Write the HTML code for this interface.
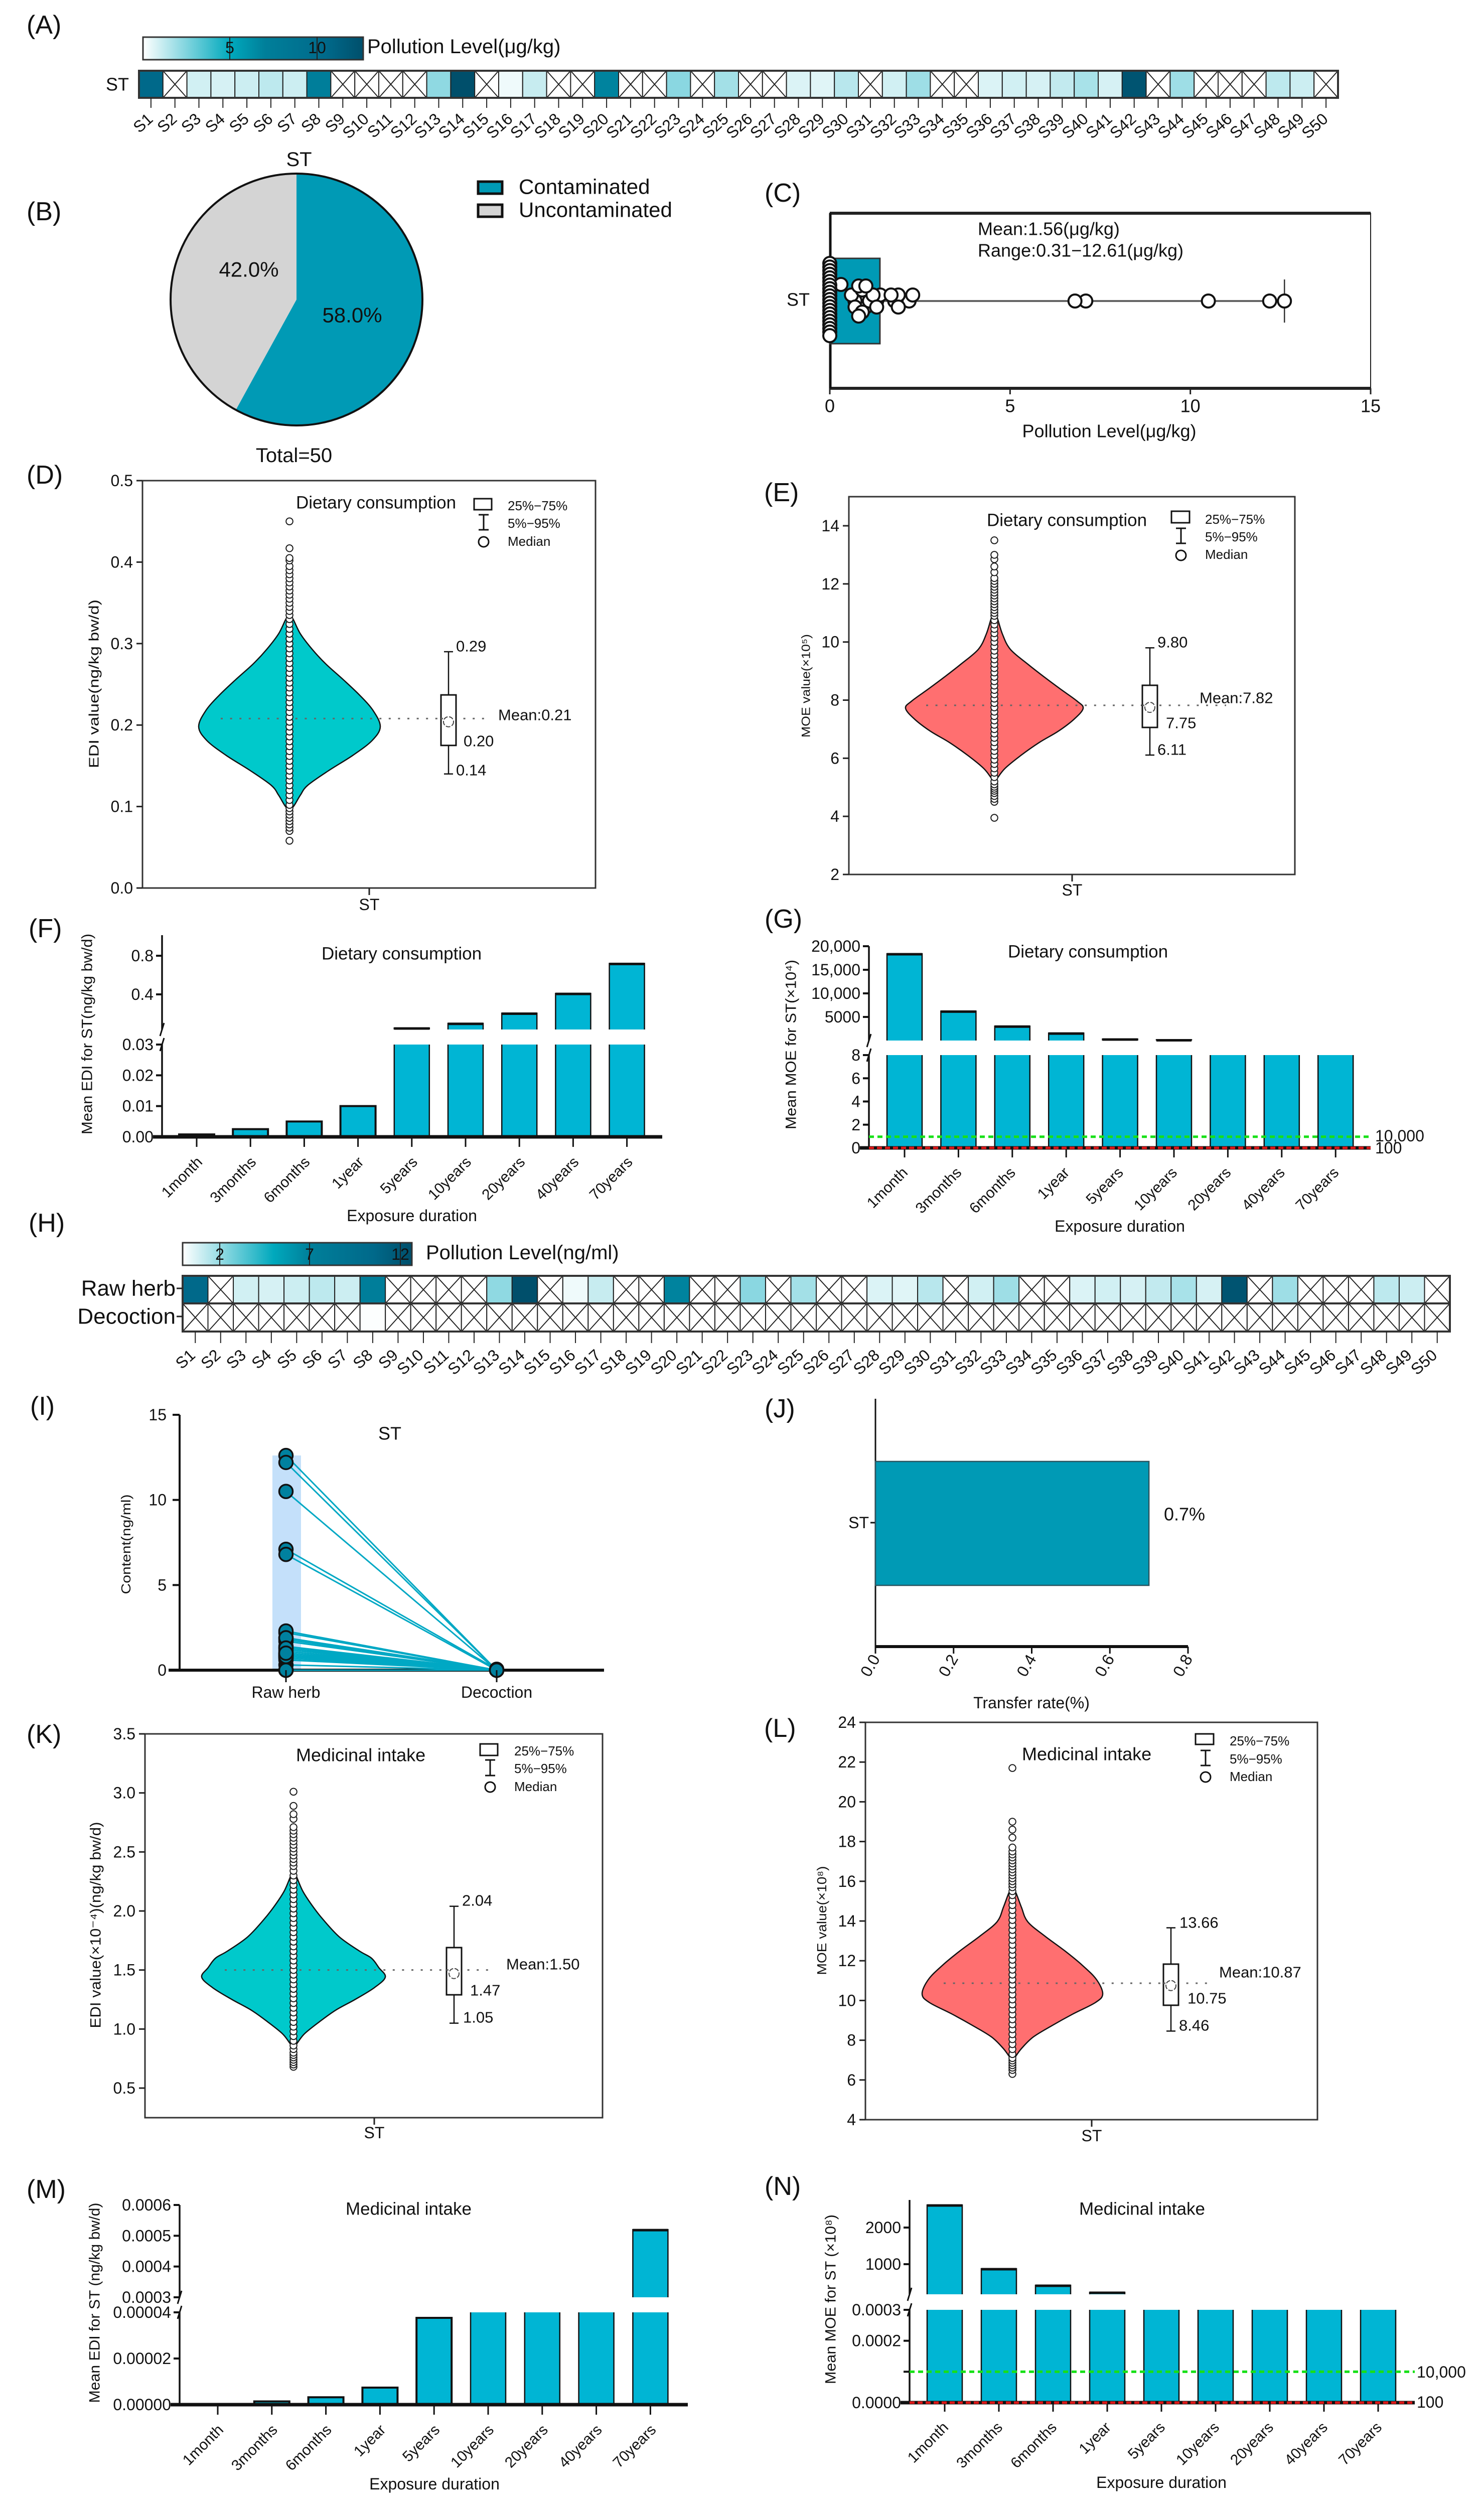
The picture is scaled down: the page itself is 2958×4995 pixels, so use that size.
<!DOCTYPE html>
<html lang="en">
<head>
<meta charset="utf-8">
<title>ST pollution, exposure and risk panels</title>
<style>
html,body{margin:0;padding:0;background:#fff}
svg{display:block}
text{font-family:"Liberation Sans",Arial,sans-serif;fill:#111;dominant-baseline:central}
.pl{font-size:52px}
.f44{font-size:44px}
.f42{font-size:42px}
.f40{font-size:40px}
.f36{font-size:36px}
.f35{font-size:35px}
.f32{font-size:32px}
.f31{font-size:31px}
.f26{font-size:26px}
.m{text-anchor:middle}
</style>
</head>
<body>
<svg id="figure" xmlns="http://www.w3.org/2000/svg" width="2958" height="4995" viewBox="0 0 2958 4995">
<defs><linearGradient id="pollution-gradient" x1="0" x2="1" y1="0" y2="0"></linearGradient></defs>
<rect x="0" y="0" width="2958" height="4995" fill="#fff"/>

<!-- panel letters -->
<text class="pl" x="53" y="50">(A)</text>
<text class="pl" x="53" y="422">(B)</text>
<text class="pl" x="1524" y="385">(C)</text>
<text class="pl" x="53" y="947">(D)</text>
<text class="pl" x="1523" y="982">(E)</text>
<text class="pl" x="57" y="1851">(F)</text>
<text class="pl" x="1524" y="1832">(G)</text>
<text class="pl" x="57" y="2438">(H)</text>
<text class="pl" x="60" y="2803">(I)</text>
<text class="pl" x="1524" y="2808">(J)</text>
<text class="pl" x="53" y="3457">(K)</text>
<text class="pl" x="1523" y="3445">(L)</text>
<text class="pl" x="53" y="4364">(M)</text>
<text class="pl" x="1524" y="4358">(N)</text>

<!-- A legend -->
<rect x="285" y="74" width="439" height="45" fill="url(#pollution-gradient)" stroke="#333" stroke-width="3"/>
<line x1="458" x2="458" y1="74" y2="119" stroke="#222" stroke-width="2"/>
<line x1="632" x2="632" y1="74" y2="119" stroke="#222" stroke-width="2"/>
<text class="f32 m" x="458" y="95">5</text>
<text class="f32 m" x="632" y="95">10</text>
<text class="f40" x="732" y="93">Pollution Level(μg/kg)</text>
<text class="f36" x="211" y="168">ST</text>

<!-- B text -->
<text class="f40 m" x="596" y="318">ST</text>
<text class="f42 m" x="496" y="537" id="pie-label-a">42.0%</text>
<text class="f42 m" x="702" y="628" id="pie-label-b">58.0%</text>
<text class="f40 m" x="586" y="908">Total=50</text>
<rect x="953" y="362" width="48" height="24" fill="#009ab5" stroke="#111" stroke-width="5"/>
<rect x="953" y="408" width="48" height="24" fill="#d4d4d4" stroke="#111" stroke-width="5"/>
<text class="f42" x="1034" y="372">Contaminated</text>
<text class="f42" x="1034" y="418">Uncontaminated</text>

<!-- C text -->
<text class="f36" x="1949" y="456">Mean:1.56(μg/kg)</text>
<text class="f36" x="1949" y="499">Range:0.31−12.61(μg/kg)</text>
<text class="f36" x="1568" y="597">ST</text>
<text class="f36 m" x="2211" y="859">Pollution Level(μg/kg)</text>

<!-- D text -->
<text class="f35" x="590" y="1002">Dietary consumption</text>
<rect x="945" y="994" width="35" height="22" fill="#fff" stroke="#111" stroke-width="3"/>
<path d="M954 1026H974M964 1026V1056M954 1056H974" fill="none" stroke="#111" stroke-width="3"/>
<circle cx="964" cy="1080" r="10" fill="#fff" stroke="#111" stroke-width="3"/>
<text class="f26" x="1012" y="1008">25%−75%</text>
<text class="f26" x="1012" y="1043">5%−95%</text>
<text class="f26" x="1012" y="1079">Median</text>
<text class="f31" x="909" y="1288">0.29</text>
<text class="f31" x="924" y="1477">0.20</text>
<text class="f31" x="909" y="1535">0.14</text>
<text class="f31" x="993" y="1425">Mean:0.21</text>
<text class="f32 m" x="736" y="1803">ST</text>
<text font-size="28" text-anchor="middle" x="187" y="1363" textLength="336" lengthAdjust="spacingAndGlyphs" transform="rotate(-90 187 1363)">EDI value(ng/kg bw/d)</text>

<!-- E text -->
<text class="f35" x="1967" y="1037">Dietary consumption</text>
<rect x="2335" y="1019" width="36" height="23" fill="#fff" stroke="#111" stroke-width="3"/>
<path d="M2344 1053H2364M2354 1053V1083M2344 1083H2364" fill="none" stroke="#111" stroke-width="3"/>
<circle cx="2354" cy="1107" r="10" fill="#fff" stroke="#111" stroke-width="3"/>
<text class="f26" x="2402" y="1035">25%−75%</text>
<text class="f26" x="2402" y="1070">5%−95%</text>
<text class="f26" x="2402" y="1105">Median</text>
<text class="f31" x="2307" y="1280">9.80</text>
<text class="f31" x="2324" y="1441">7.75</text>
<text class="f31" x="2307" y="1494">6.11</text>
<text class="f31" x="2391" y="1391">Mean:7.82</text>
<text class="f32 m" x="2137" y="1774">ST</text>
<text font-size="24" text-anchor="middle" x="1607" y="1367" textLength="206" lengthAdjust="spacingAndGlyphs" transform="rotate(-90 1607 1367)">MOE value(×10⁵)</text>

<!-- F, G text -->
<text class="f35" x="641" y="1901">Dietary consumption</text>
<text class="f32 m" x="821" y="2423">Exposure duration</text>
<text font-size="30" text-anchor="middle" x="174" y="2061" textLength="400" lengthAdjust="spacingAndGlyphs" transform="rotate(-90 174 2061)">Mean EDI for ST(ng/kg bw/d)</text>
<text class="f35" x="2009" y="1897">Dietary consumption</text>
<text class="f32 m" x="2232" y="2444">Exposure duration</text>
<text font-size="30" text-anchor="middle" x="1577" y="2082" textLength="338" lengthAdjust="spacingAndGlyphs" transform="rotate(-90 1577 2082)">Mean MOE for ST(×10⁴)</text>
<text class="f32" x="2741" y="2264">10,000</text>
<text class="f32" x="2741" y="2288">100</text>

<!-- H legend -->
<rect x="364" y="2477" width="457" height="45" fill="url(#pollution-gradient)" stroke="#333" stroke-width="3"/>
<line x1="438" x2="438" y1="2477" y2="2522" stroke="#222" stroke-width="2"/>
<line x1="617" x2="617" y1="2477" y2="2522" stroke="#222" stroke-width="2"/>
<line x1="798" x2="798" y1="2477" y2="2522" stroke="#222" stroke-width="2"/>
<text class="f32 m" x="438" y="2500">2</text>
<text class="f32 m" x="617" y="2500">7</text>
<text class="f32 m" x="798" y="2500">12</text>
<text class="f40" x="849" y="2497">Pollution Level(ng/ml)</text>
<text class="f44" text-anchor="end" x="350" y="2568">Raw herb</text>
<text class="f44" text-anchor="end" x="350" y="2624">Decoction</text>

<!-- I, J text -->
<text class="f36 m" x="777" y="2857">ST</text>
<text font-size="26" text-anchor="middle" x="251" y="3078" textLength="199" lengthAdjust="spacingAndGlyphs" transform="rotate(-90 251 3078)">Content(ng/ml)</text>
<text class="f32 m" x="570" y="3373">Raw herb</text>
<text class="f32 m" x="990" y="3373">Decoction</text>
<text class="f36" x="2320" y="3018">0.7%</text>
<text class="f32" text-anchor="end" x="1732" y="3035">ST</text>
<text class="f32 m" x="2056" y="3394">Transfer rate(%)</text>

<!-- K text -->
<text class="f36" x="590" y="3498">Medicinal intake</text>
<rect x="957" y="3476" width="35" height="23" fill="#fff" stroke="#111" stroke-width="3"/>
<path d="M967 3508H987M977 3508V3539M967 3539H987" fill="none" stroke="#111" stroke-width="3"/>
<circle cx="977" cy="3562" r="10" fill="#fff" stroke="#111" stroke-width="3"/>
<text class="f26" x="1025" y="3490">25%−75%</text>
<text class="f26" x="1025" y="3525">5%−95%</text>
<text class="f26" x="1025" y="3561">Median</text>
<text class="f31" x="921" y="3788">2.04</text>
<text class="f31" x="937" y="3967">1.47</text>
<text class="f31" x="923" y="4021">1.05</text>
<text class="f31" x="1009" y="3915">Mean:1.50</text>
<text class="f32 m" x="746" y="4251">ST</text>
<text font-size="30" text-anchor="middle" x="191" y="3837" textLength="411" lengthAdjust="spacingAndGlyphs" transform="rotate(-90 191 3837)">EDI value(×10⁻⁴)(ng/kg bw/d)</text>

<!-- L text -->
<text class="f36" x="2037" y="3496">Medicinal intake</text>
<rect x="2383" y="3456" width="36" height="21" fill="#fff" stroke="#111" stroke-width="3"/>
<path d="M2393 3489H2413M2403 3489V3519M2393 3519H2413" fill="none" stroke="#111" stroke-width="3"/>
<circle cx="2403" cy="3542" r="10" fill="#fff" stroke="#111" stroke-width="3"/>
<text class="f26" x="2451" y="3470">25%−75%</text>
<text class="f26" x="2451" y="3506">5%−95%</text>
<text class="f26" x="2451" y="3541">Median</text>
<text class="f31" x="2351" y="3832">13.66</text>
<text class="f31" x="2367" y="3983">10.75</text>
<text class="f31" x="2350" y="4037">8.46</text>
<text class="f31" x="2430" y="3931">Mean:10.87</text>
<text class="f32 m" x="2176" y="4257">ST</text>
<text font-size="26" text-anchor="middle" x="1638" y="3828" textLength="217" lengthAdjust="spacingAndGlyphs" transform="rotate(-90 1638 3828)">MOE value(×10⁸)</text>

<!-- M, N text -->
<text class="f35" x="689" y="4403">Medicinal intake</text>
<text class="f32 m" x="866" y="4951">Exposure duration</text>
<text font-size="30" text-anchor="middle" x="189" y="4590" textLength="399" lengthAdjust="spacingAndGlyphs" transform="rotate(-90 189 4590)">Mean EDI for ST (ng/kg bw/d)</text>
<text class="f35" x="2151" y="4403">Medicinal intake</text>
<text class="f32 m" x="2315" y="4948">Exposure duration</text>
<text font-size="30" text-anchor="middle" x="1656" y="4583" textLength="338" lengthAdjust="spacingAndGlyphs" transform="rotate(-90 1656 4583)">Mean MOE for ST (×10⁸)</text>
<text class="f32" x="2824" y="4728">10,000</text>
<text class="f32" x="2824" y="4788">100</text>
</svg>

<script>
/* ---------- data ---------- */
const sampleNames = ['S1','S2','S3','S4','S5','S6','S7','S8','S9','S10','S11','S12','S13','S14','S15','S16','S17','S18','S19','S20','S21','S22','S23','S24','S25','S26','S27','S28','S29','S30','S31','S32','S33','S34','S35','S36','S37','S38','S39','S40','S41','S42','S43','S44','S45','S46','S47','S48','S49','S50'];
const rawHerbLevels = [10.5,null,0.9,0.8,1.0,1.3,1.0,7.1,null,null,null,null,2.2,12.61,null,0.31,1.1,null,null,6.8,null,null,2.3,null,1.8,null,null,0.7,0.6,1.4,null,0.9,1.9,null,null,0.7,0.9,0.8,1.2,1.7,0.8,12.2,null,1.9,null,null,null,1.3,1.0,null];
const decoctionLevels = [null,null,null,null,null,null,null,0.05,null,null,null,null,null,null,null,null,null,null,null,null,null,null,null,null,null,null,null,null,null,null,null,null,null,null,null,null,null,null,null,null,null,null,null,null,null,null,null,null,null,null];
const colorStopValues = [0,5,7,10.5,12.61];
const colorStopHex = ['#ffffff','#00a9bd','#007f9a','#00698a','#004f6b'];

const pieValues = [58,42];
const pieColors = ['#009ab5','#d4d4d4'];

const boxCStats = [0,1.39,12.61];
const boxCTicks = [0,5,10,15];

const ediDietLevels = [0.335,0.33,0.312,0.293,0.275,0.256,0.237,0.218,0.198,0.181,0.163,0.144,0.126,0.114,0.101,0.095];
const ediDietDensity = [0,0.04,0.12,0.25,0.40,0.59,0.77,0.92,1,0.91,0.70,0.43,0.20,0.12,0.05,0];
const ediDietSamples = [0.058,0.07,0.074,0.078,0.082,0.086,0.09,0.094,0.098,0.102,0.108,0.114,0.12,0.126,0.132,0.138,0.144,0.15,0.156,0.162,0.168,0.174,0.18,0.186,0.192,0.198,0.204,0.21,0.216,0.222,0.228,0.234,0.24,0.246,0.252,0.258,0.264,0.27,0.276,0.282,0.288,0.294,0.3,0.306,0.312,0.318,0.324,0.33,0.335,0.34,0.345,0.35,0.355,0.36,0.365,0.37,0.375,0.38,0.385,0.39,0.395,0.402,0.405,0.417,0.45];
const ediDietBox = [0.14,0.175,0.204,0.237,0.29];
const ediDietMean = [0.208];
const ediDietTicks = [0,0.1,0.2,0.3,0.4,0.5];
const ediDietTickLabels = ['0.0','0.1','0.2','0.3','0.4','0.5'];

const moeDietLevels = [10.95,10.86,10.28,9.75,9.23,8.8,8.39,7.97,7.72,7.35,6.93,6.55,6.1,5.65,5.3,5.2];
const moeDietDensity = [0,0.03,0.09,0.18,0.38,0.56,0.74,0.93,1,0.90,0.72,0.51,0.30,0.12,0.03,0];
const moeDietSamples = [3.95,4.5,4.6,4.7,4.8,4.88,4.95,5.02,5.1,5.2,5.35,5.5,5.65,5.8,5.95,6.1,6.25,6.4,6.55,6.7,6.85,7.0,7.15,7.3,7.45,7.6,7.75,7.9,8.05,8.2,8.35,8.5,8.65,8.8,8.95,9.1,9.25,9.4,9.55,9.7,9.85,10.0,10.15,10.3,10.45,10.6,10.75,10.9,11.0,11.1,11.2,11.3,11.4,11.5,11.6,11.7,11.8,11.9,12.0,12.1,12.2,12.4,12.6,12.85,13.0,13.5];
const moeDietBox = [6.11,7.06,7.75,8.51,9.80];
const moeDietMean = [7.82];
const moeDietTicks = [2,4,6,8,10,12,14];
const moeDietTickLabels = ['2','4','6','8','10','12','14'];

const ediMedLevels = [2.33,2.296,2.17,2.05,1.93,1.78,1.66,1.6,1.52,1.44,1.35,1.25,1.16,1.06,0.96,0.88,0.84];
const ediMedDensity = [0,0.03,0.1,0.2,0.32,0.5,0.72,0.85,0.93,1,0.88,0.67,0.46,0.28,0.12,0.04,0];
const ediMedSamples = [0.68,0.7,0.72,0.74,0.76,0.78,0.8,0.83,0.86,0.9,0.94,0.98,1.02,1.06,1.1,1.14,1.18,1.22,1.26,1.3,1.34,1.38,1.42,1.46,1.5,1.54,1.58,1.62,1.66,1.7,1.74,1.78,1.82,1.86,1.9,1.94,1.98,2.02,2.06,2.1,2.14,2.18,2.22,2.26,2.3,2.34,2.38,2.41,2.44,2.47,2.5,2.53,2.56,2.59,2.62,2.65,2.68,2.71,2.78,2.82,2.89,3.01];
const ediMedBox = [1.05,1.29,1.47,1.69,2.04];
const ediMedMean = [1.5];
const ediMedTicks = [0.5,1.0,1.5,2.0,2.5,3.0,3.5];
const ediMedTickLabels = ['0.5','1.0','1.5','2.0','2.5','3.0','3.5'];

const moeMedLevels = [15.7,15.41,14.69,13.96,13.24,12.5,11.79,11.06,10.33,9.9,9.32,8.74,8.16,7.58,7.15,7.0];
const moeMedDensity = [0,0.04,0.1,0.17,0.36,0.58,0.77,0.93,1,0.92,0.67,0.44,0.23,0.1,0.03,0];
const moeMedSamples = [6.3,6.5,6.62,6.74,6.86,6.98,7.1,7.3,7.55,7.8,8.05,8.3,8.55,8.8,9.05,9.3,9.55,9.8,10.05,10.3,10.55,10.8,11.05,11.3,11.55,11.8,12.05,12.3,12.55,12.8,13.05,13.3,13.55,13.8,14.05,14.3,14.55,14.8,15.05,15.3,15.5,15.7,15.85,16.0,16.15,16.3,16.45,16.6,16.75,16.9,17.05,17.2,17.35,17.5,17.7,18.2,18.6,19.0,21.7];
const moeMedBox = [8.46,9.76,10.75,11.83,13.66];
const moeMedMean = [10.87];
const moeMedTicks = [4,6,8,10,12,14,16,18,20,22,24];
const moeMedTickLabels = ['4','6','8','10','12','14','16','18','20','22','24'];

const durations = ['1month','3months','6months','1year','5years','10years','20years','40years','70years'];
const ediDietMeans = [0.0008,0.0025,0.005,0.01,0.052,0.1,0.205,0.41,0.72];
const moeDietMeans = [18400,6240,3065,1586,320,160,80,40,23];
const ediMedMeans = [0.00000004,0.0000014,0.0000032,0.0000074,0.0000376,0.000074,0.00015,0.0003,0.00052];
const moeMedMeans = [2616,877,425,233,52,26,13,6.5,3.7];

const fUpperTicks = [0.4,0.8];
const fUpperLabels = ['0.4','0.8'];
const fLowerTicks = [0,0.01,0.02,0.03];
const fLowerLabels = ['0.00','0.01','0.02','0.03'];
const gUpperTicks = [5000,10000,15000,20000];
const gUpperLabels = ['5000','10,000','15,000','20,000'];
const gLowerTicks = [0,2,4,6,8];
const gLowerLabels = ['0','2','4','6','8'];
const mUpperTicks = [0.0003,0.0004,0.0005,0.0006];
const mUpperLabels = ['0.0003','0.0004','0.0005','0.0006'];
const mLowerTicks = [0,0.00002,0.00004];
const mLowerLabels = ['0.00000','0.00002','0.00004'];
const nUpperTicks = [1000,2000];
const nUpperLabels = ['1000','2000'];
const nLowerTicks = [0,0.0001,0.0002,0.0003];
const nLowerLabels = ['0.0000','','0.0002','0.0003'];

const pairedTicks = [0,5,10,15];
const transferRate = [0.7];
const transferTicks = [0,0.2,0.4,0.6,0.8];
const transferTickLabels = ['0.0','0.2','0.4','0.6','0.8'];

/* ---------- helpers ---------- */
const NS = 'http://www.w3.org/2000/svg';
const fig = document.getElementById('figure');
function make(tag, attrs, parent) {
  const node = document.createElementNS(NS, tag);
  for (const k in attrs) node.setAttribute(k, attrs[k]);
  (parent || fig).appendChild(node);
  return node;
}
function linear(d0, d1, r0, r1) {
  return function (v) { return r0 + (v - d0) * (r1 - r0) / (d1 - d0); };
}
function hexToRgb(h) {
  return [parseInt(h.slice(1,3),16), parseInt(h.slice(3,5),16), parseInt(h.slice(5,7),16)];
}
function colorFor(v) {
  for (let i = 1; i < colorStopValues.length; i++) {
    if (v <= colorStopValues[i]) {
      const t = (v - colorStopValues[i-1]) / (colorStopValues[i] - colorStopValues[i-1]);
      const a = hexToRgb(colorStopHex[i-1]);
      const b = hexToRgb(colorStopHex[i]);
      return 'rgb(' + a.map(function (c, j) { return Math.round(c + (b[j] - c) * t); }).join(',') + ')';
    }
  }
  return colorStopHex[colorStopHex.length - 1];
}
function smoothPath(pts, start) {
  let d = start ? 'M' + pts[0][0] + ' ' + pts[0][1] : '';
  for (let i = 0; i < pts.length - 1; i++) {
    const p0 = pts[i-1] || pts[i], p1 = pts[i], p2 = pts[i+1], p3 = pts[i+2] || p2;
    d += 'C' + (p1[0] + (p2[0]-p0[0])/6) + ' ' + (p1[1] + (p2[1]-p0[1])/6) + ' ' +
         (p2[0] - (p3[0]-p1[0])/6) + ' ' + (p2[1] - (p3[1]-p1[1])/6) + ' ' + p2[0] + ' ' + p2[1];
  }
  return d;
}

/* ---------- gradient ---------- */
const grad = document.getElementById('pollution-gradient');
colorStopValues.forEach(function (v, i) {
  make('stop', {offset: (v / 12.61), 'stop-color': colorStopHex[i]}, grad);
});

/* ---------- heatmaps ---------- */
function drawHeatRow(values, rowName, x0, y0, cw, h) {
  const g = make('g', {});
  
  
  values.forEach(function (v, i) {
    const x = x0 + i * cw;
    const cell = make('rect', {x: x, y: y0, width: cw, height: h, fill: v === null ? '#fff' : colorFor(v), stroke: '#222', 'stroke-width': 2}, g);
    
    
    if (v === null) {
      const cross = make('path', {d: 'M' + x + ' ' + y0 + 'L' + (x+cw) + ' ' + (y0+h) + 'M' + (x+cw) + ' ' + y0 + 'L' + x + ' ' + (y0+h), stroke: '#222', 'stroke-width': 2, fill: 'none'}, g);
      
      
    }
  });
  const frame = make('rect', {x: x0, y: y0, width: cw * values.length, height: h, fill: 'none', stroke: '#333', 'stroke-width': 4}, g);
  
  
}
function drawSampleAxis(prefix, x0, cw, yTop, yEnd, labelDx, labelY) {
  sampleNames.forEach(function (s, i) {
    const tx = x0 + (i + 0.5) * cw;
    const tick = make('line', {x1: tx, x2: tx, y1: yTop, y2: yEnd, stroke: '#222', 'stroke-width': 2});
    
    
    const t = make('text', {x: tx + labelDx, y: labelY, 'font-size': 32, 'text-anchor': 'end', style: 'dominant-baseline:auto', transform: 'rotate(-42 ' + (tx + labelDx) + ' ' + labelY + ')'});
    t.textContent = s;
    
    
  });
}
drawHeatRow(rawHerbLevels, 'a-st', 277, 141, 47.8, 54);
drawSampleAxis('heatmap-a', 277, 47.8, 195, 215, 6, 240);
drawHeatRow(rawHerbLevels, 'h-raw-herb', 364, 2543, 50.52, 55);
drawHeatRow(decoctionLevels, 'h-decoction', 364, 2598, 50.52, 56);
drawSampleAxis('heatmap-h', 364, 50.52, 2654, 2677, 2, 2704);
[2568, 2624].forEach(function (y, i) {
  const rowTick = make('line', {x1: 352, x2: 364, y1: y, y2: y, stroke: '#222', 'stroke-width': 3});
  
  
});

/* ---------- pie ---------- */
(function () {
  const cx = 591, cy = 597, r = 251;
  const total = pieValues.reduce(function (a, b) { return a + b; }, 0);
  let a0 = 0;
  pieValues.forEach(function (v, i) {
    const a1 = a0 + v / total * Math.PI * 2;
    const x0 = cx + r * Math.sin(a0), y0 = cy - r * Math.cos(a0);
    const x1 = cx + r * Math.sin(a1), y1 = cy - r * Math.cos(a1);
    const large = a1 - a0 > Math.PI ? 1 : 0;
    const slice = make('path', {d: 'M' + cx + ' ' + cy + 'L' + x0 + ' ' + y0 + 'A' + r + ' ' + r + ' 0 ' + large + ' 1 ' + x1 + ' ' + y1 + 'Z', fill: pieColors[i]});
    
    
    a0 = a1;
  });
  const rim = make('circle', {cx: cx, cy: cy, r: r, fill: 'none', stroke: '#111', 'stroke-width': 4});
  
  
  /* keep the percentage labels above the slices */
  fig.appendChild(document.getElementById('pie-label-a'));
  fig.appendChild(document.getElementById('pie-label-b'));
})();

/* ---------- box + swarm C ---------- */
(function () {
  const x = linear(0, 15, 1654, 2732);
  const midY = 600;
  const frame = make('rect', {x: 1654, y: 425, width: 1078, height: 349, fill: 'none', stroke: '#222', 'stroke-width': 2});
  
  
  const rules = make('path', {d: 'M1654 425H2732M1654 774H2732', stroke: '#222', 'stroke-width': 6, fill: 'none'});
  
  
  const leftAxis = make('line', {x1: 1655, x2: 1655, y1: 425, y2: 774, stroke: '#111', 'stroke-width': 5});
  
  
  boxCTicks.forEach(function (v) {
    const tick = make('line', {x1: x(v), x2: x(v), y1: 774, y2: 786, stroke: '#222', 'stroke-width': 3});
    
    
    const lab = make('text', {x: x(v), y: 809, 'font-size': 36, 'text-anchor': 'middle'});
    lab.textContent = String(v);
    
    
  });
  const box = make('rect', {x: x(boxCStats[0]), y: 515, width: x(boxCStats[1]) - x(boxCStats[0]), height: 170, fill: '#009ab5', stroke: '#333', 'stroke-width': 3});
  
  
  const whisker = make('line', {x1: x(boxCStats[1]), x2: x(boxCStats[2]), y1: midY, y2: midY, stroke: '#666', 'stroke-width': 4});
  
  
  const cap = make('line', {x1: x(boxCStats[2]), x2: x(boxCStats[2]), y1: 557, y2: 643, stroke: '#333', 'stroke-width': 2.5});
  
  
  const placed = [];
  let zeroIndex = 0;
  const zeroCount = rawHerbLevels.filter(function (v) { return v === null; }).length;
  rawHerbLevels.forEach(function (v, i) {
    const value = v === null ? 0 : v;
    const px = x(value);
    let py;
    if (v === null) {
      py = 525 + zeroIndex * (144 / (zeroCount - 1));
      zeroIndex++;
    } else if (px - 1654 < 30) {
      py = midY - 33;
    } else {
      const offsets = [0, -12, 12, -22, 22, -30, 30];
      py = midY;
      for (const o of offsets) {
        const clash = placed.some(function (p) { return Math.hypot(p[0] - px, p[1] - (midY + o)) < 10; });
        if (!clash) { py = midY + o; break; }
      }
      placed.push([px, py]);
    }
    const dot = make('circle', {cx: px, cy: py, r: 13, fill: '#fff', stroke: '#111', 'stroke-width': 4});
    
    
  });
})();

/* ---------- violins ---------- */
function drawViolin(cfg) {
  const prefix = cfg.prefix;
  const y = cfg.y;
  const g = make('g', {});
  
  
  const frame = make('rect', {x: cfg.left, y: cfg.top, width: cfg.right - cfg.left, height: cfg.bottom - cfg.top, fill: 'none', stroke: '#333', 'stroke-width': 3}, g);
  
  
  cfg.ticks.forEach(function (v, i) {
    const tick = make('line', {x1: cfg.left - 12, x2: cfg.left, y1: y(v), y2: y(v), stroke: '#222', 'stroke-width': 3}, g);
    
    
    const lab = make('text', {x: cfg.left - 19, y: y(v), 'font-size': 32, 'text-anchor': 'end'}, g);
    lab.textContent = cfg.tickLabels[i];
    
    
  });
  const xTick = make('line', {x1: cfg.catX, x2: cfg.catX, y1: cfg.bottom, y2: cfg.bottom + 14, stroke: '#222', 'stroke-width': 3}, g);
  
  
  const rightSide = cfg.levels.map(function (v, i) { return [cfg.cx + cfg.density[i] * cfg.hw, y(v)]; });
  const leftSide = cfg.levels.map(function (v, i) { return [cfg.cx - cfg.density[i] * cfg.hw, y(v)]; }).reverse();
  const shape = make('path', {d: smoothPath(rightSide, true) + smoothPath(leftSide, false) + 'Z', fill: cfg.fill, stroke: '#111', 'stroke-width': 2.5}, g);
  
  
  const mean = make('line', {x1: cfg.meanX0, x2: cfg.meanX1, y1: y(cfg.mean[0]), y2: y(cfg.mean[0]), stroke: '#666', 'stroke-width': 3, 'stroke-dasharray': '4 14.6'}, g);
  
  
  cfg.samples.forEach(function (v) {
    const dot = make('circle', {cx: cfg.cx, cy: y(v), r: 6.8, fill: '#fff', stroke: '#1a1a1a', 'stroke-width': 2}, g);
    
    
  });
  const b = cfg.box;
  const whisker = make('path', {d: 'M' + (cfg.boxX - 9) + ' ' + y(b[4]) + 'H' + (cfg.boxX + 9) + 'M' + cfg.boxX + ' ' + y(b[4]) + 'V' + y(b[0]) + 'M' + (cfg.boxX - 9) + ' ' + y(b[0]) + 'H' + (cfg.boxX + 9), fill: 'none', stroke: '#111', 'stroke-width': 2.5}, g);
  
  
  const box = make('rect', {x: cfg.boxX - 15, y: y(b[3]), width: 30, height: y(b[1]) - y(b[3]), fill: '#fff', stroke: '#111', 'stroke-width': 3}, g);
  
  
  const mean2 = make('line', {x1: cfg.boxX - 15, x2: cfg.boxX + 15, y1: y(cfg.mean[0]), y2: y(cfg.mean[0]), stroke: '#666', 'stroke-width': 3, 'stroke-dasharray': '4 14.6'}, g);
  
  
  const med = make('circle', {cx: cfg.boxX, cy: y(b[2]), r: 10, fill: '#fff', stroke: '#444', 'stroke-width': 2, 'stroke-dasharray': '9 3'}, g);
  
  
}
drawViolin({prefix: 'violin-d', left: 284, right: 1187, top: 958, bottom: 1770, y: linear(0, 0.5, 1770, 958), ticks: ediDietTicks, tickLabels: ediDietTickLabels, catX: 736, cx: 577, hw: 181, fill: '#00c9cb', levels: ediDietLevels, density: ediDietDensity, samples: ediDietSamples, box: ediDietBox, mean: ediDietMean, boxX: 894, meanX0: 440, meanX1: 971});
drawViolin({prefix: 'violin-e', left: 1692, right: 2581, top: 990, bottom: 1743, y: linear(2, 14, 1743, 1048), ticks: moeDietTicks, tickLabels: moeDietTickLabels, catX: 2137, cx: 1982, hw: 177, fill: '#ff6f70', levels: moeDietLevels, density: moeDietDensity, samples: moeDietSamples, box: moeDietBox, mean: moeDietMean, boxX: 2292, meanX0: 1846, meanX1: 2444});
drawViolin({prefix: 'violin-k', left: 289, right: 1201, top: 3456, bottom: 4221, y: linear(0.5, 3.5, 4162, 3456), ticks: ediMedTicks, tickLabels: ediMedTickLabels, catX: 746, cx: 585, hw: 183, fill: '#00c9cb', levels: ediMedLevels, density: ediMedDensity, samples: ediMedSamples, box: ediMedBox, mean: ediMedMean, boxX: 905, meanX0: 448, meanX1: 985});
drawViolin({prefix: 'violin-l', left: 1725, right: 2626, top: 3433, bottom: 4225, y: linear(4, 24, 4225, 3433), ticks: moeMedTicks, tickLabels: moeMedTickLabels, catX: 2176, cx: 2018, hw: 180, fill: '#ff6f70', levels: moeMedLevels, density: moeMedDensity, samples: moeMedSamples, box: moeMedBox, mean: moeMedMean, boxX: 2334, meanX0: 1881, meanX1: 2407});

/* ---------- broken-axis bars ---------- */
function drawBrokenBars(cfg) {
  const prefix = cfg.prefix;
  const g = make('g', {});
  
  
  const up = cfg.upper, low = cfg.lower;
  const barX = linear(0, 1, cfg.x0, cfg.x0 + cfg.step);
  cfg.values.forEach(function (v, i) {
    const cx = barX(i), w = 70;
    const baseY = low(0);
    const lowTop = low(Math.min(v, cfg.lowerMax));
    const lowBar = make('rect', {x: cx - w/2, y: lowTop, width: w, height: baseY - lowTop, fill: '#00b5d4'}, g);
    
    
    const side = v > cfg.lowerMax
      ? 'M' + (cx - w/2) + ' ' + lowTop + 'V' + baseY + 'M' + (cx + w/2) + ' ' + lowTop + 'V' + baseY
      : 'M' + (cx - w/2) + ' ' + baseY + 'V' + lowTop + 'H' + (cx + w/2) + 'V' + baseY;
    const lowEdge = make('path', {d: side, fill: 'none', stroke: '#111', 'stroke-width': v > cfg.lowerMax ? 2.5 : 4}, g);
    
    
    if (v > cfg.upperMin) {
      const upTop = up(v);
      const upBar = make('rect', {x: cx - w/2, y: upTop, width: w, height: cfg.upperBaseY - upTop, fill: '#00b5d4'}, g);
      
      
      const upEdge = make('path', {d: 'M' + (cx - w/2) + ' ' + cfg.upperBaseY + 'V' + upTop + 'H' + (cx + w/2) + 'V' + cfg.upperBaseY, fill: 'none', stroke: '#111', 'stroke-width': 2.5}, g);
      
      
      const cap = make('line', {x1: cx - w/2, x2: cx + w/2, y1: upTop + 1, y2: upTop + 1, stroke: '#111', 'stroke-width': 5}, g);
      
      
    }
    const tick = make('line', {x1: cx, x2: cx, y1: baseY, y2: baseY + cfg.tickLen, stroke: '#111', 'stroke-width': 3}, g);
    
    
    const lx = cx + cfg.labelDx, ly = cfg.labelY;
    const lab = make('text', {x: lx, y: ly, 'font-size': 30, 'text-anchor': 'end', style: 'dominant-baseline:auto', transform: 'rotate(-45 ' + lx + ' ' + ly + ')'}, g);
    lab.textContent = durations[i];
    
    
  });
  const axisUpper = make('line', {x1: cfg.axisX, x2: cfg.axisX, y1: cfg.axisTop, y2: cfg.upperBaseY, stroke: '#111', 'stroke-width': 3.5}, g);
  
  
  const axisLower = make('line', {x1: cfg.axisX, x2: cfg.axisX, y1: low(cfg.lowerMax), y2: low(0), stroke: '#111', 'stroke-width': 3.5}, g);
  
  
  [cfg.upperBaseY, low(cfg.lowerMax)].forEach(function (yy) {
    const slash = make('line', {x1: cfg.axisX - 4, x2: cfg.axisX + 4, y1: yy + 13, y2: yy - 13, stroke: '#111', 'stroke-width': 3}, g);
    
    
  });
  function ticks(values, labels, sc) {
    values.forEach(function (v, i) {
      const tick = make('line', {x1: cfg.axisX - 12, x2: cfg.axisX, y1: sc(v), y2: sc(v), stroke: '#111', 'stroke-width': 4}, g);
      
      
      const lab = make('text', {x: cfg.axisX - 17, y: sc(v), 'font-size': 32, 'text-anchor': 'end'}, g);
      lab.textContent = labels[i];
      
      
    });
  }
  ticks(cfg.upperTicks, cfg.upperLabels, up);
  ticks(cfg.lowerTicks, cfg.lowerLabels, low);
  const baseline = make('line', {x1: cfg.axisX - 18, x2: cfg.baseEnd, y1: low(0), y2: low(0), stroke: '#111', 'stroke-width': 7}, g);
  
  
  if (cfg.greenAt !== undefined) {
    const green = make('line', {x1: cfg.axisX, x2: cfg.baseEnd, y1: low(cfg.greenAt), y2: low(cfg.greenAt), stroke: '#18e018', 'stroke-width': 5, 'stroke-dasharray': '10 7'}, g);
    
    
    const red = make('line', {x1: cfg.axisX, x2: cfg.baseEnd, y1: low(cfg.redAt), y2: low(cfg.redAt), stroke: '#e01818', 'stroke-width': 5, 'stroke-dasharray': '10 6'}, g);
    
    
  }
}
drawBrokenBars({prefix: 'bars-f', values: ediDietMeans, x0: 392, step: 107.2, axisX: 323, axisTop: 1864, baseEnd: 1320,
  upper: linear(0.4, 0.8, 1982, 1905), upperBaseY: 2052, upperMin: 0.036,
  lower: linear(0, 0.03, 2266, 2082), lowerMax: 0.03,
  upperTicks: fUpperTicks, upperLabels: fUpperLabels, lowerTicks: fLowerTicks, lowerLabels: fLowerLabels,
  tickLen: 20, labelDx: 13, labelY: 2318});
drawBrokenBars({prefix: 'bars-g', values: moeDietMeans, x0: 1803, step: 107.4, axisX: 1732, axisTop: 1886, baseEnd: 2732,
  upper: linear(0, 20000, 2074, 1886), upperBaseY: 2074, upperMin: 100,
  lower: linear(0, 8, 2288, 2103), lowerMax: 8, greenAt: 0.96, redAt: 0,
  upperTicks: gUpperTicks, upperLabels: gUpperLabels, lowerTicks: gLowerTicks, lowerLabels: gLowerLabels,
  tickLen: 19, labelDx: 8, labelY: 2339});
drawBrokenBars({prefix: 'bars-m', values: ediMedMeans, x0: 434, step: 107.8, axisX: 358, axisTop: 4395, baseEnd: 1371,
  upper: linear(0.0003, 0.0006, 4579, 4395), upperBaseY: 4579, upperMin: 0.0003,
  lower: linear(0, 0.00004, 4793, 4609), lowerMax: 0.00004,
  upperTicks: mUpperTicks, upperLabels: mUpperLabels, lowerTicks: mLowerTicks, lowerLabels: mLowerLabels,
  tickLen: 20, labelDx: 13, labelY: 4845});
drawBrokenBars({prefix: 'bars-n', values: moeMedMeans, x0: 1883, step: 108, axisX: 1813, axisTop: 4385, baseEnd: 2820,
  upper: linear(178, 2000, 4573, 4440), upperBaseY: 4573, upperMin: 178,
  lower: linear(0, 0.0003, 4789, 4604), lowerMax: 0.0003, greenAt: 0.0001, redAt: 0,
  upperTicks: nUpperTicks, upperLabels: nUpperLabels, lowerTicks: nLowerTicks, lowerLabels: nLowerLabels,
  tickLen: 18, labelDx: 9, labelY: 4840});

/* ---------- paired chart I ---------- */
(function () {
  const y = linear(0, 15, 3329, 2820);
  const rawX = 570, decX = 990;
  const g = make('g', {});
  
  
  const maxV = Math.max.apply(null, rawHerbLevels);
  const band = make('rect', {x: 543, y: y(maxV), width: 57, height: y(0) - y(maxV), fill: '#c4e0fa'}, g);
  
  
  const axis = make('line', {x1: 358, x2: 358, y1: y(15), y2: y(0), stroke: '#111', 'stroke-width': 4}, g);
  
  
  const base = make('line', {x1: 336, x2: 1204, y1: y(0), y2: y(0), stroke: '#111', 'stroke-width': 6}, g);
  
  
  pairedTicks.forEach(function (v) {
    const tick = make('line', {x1: 344, x2: 358, y1: y(v), y2: y(v), stroke: '#111', 'stroke-width': 4}, g);
    
    
    const lab = make('text', {x: 332, y: y(v), 'font-size': 32, 'text-anchor': 'end'}, g);
    lab.textContent = String(v);
    
    
  });
  rawHerbLevels.forEach(function (v, i) {
    const r = v === null ? 0 : v;
    const d = decoctionLevels[i] === null ? 0 : decoctionLevels[i];
    const link = make('line', {x1: rawX, y1: y(r), x2: decX, y2: y(d), stroke: '#00a8c4', 'stroke-width': 3}, g);
    
    
  });
  rawHerbLevels.forEach(function (v, i) {
    const r = v === null ? 0 : v;
    const d = decoctionLevels[i] === null ? 0 : decoctionLevels[i];
    const p1 = make('circle', {cx: rawX, cy: y(r), r: 13.5, fill: '#00819f', stroke: '#111', 'stroke-width': 3.5}, g);
    
    
    const p2 = make('circle', {cx: decX, cy: y(d), r: 13.5, fill: '#00819f', stroke: '#111', 'stroke-width': 3.5}, g);
    
    
  });
  [rawX, decX].forEach(function (x) {
    const tick = make('line', {x1: x, x2: x, y1: y(0), y2: y(0) + 24, stroke: '#111', 'stroke-width': 3}, g);
    
    
  });
})();

/* ---------- bar J ---------- */
(function () {
  const x = linear(0, 0.8, 1745, 2368);
  const g = make('g', {});
  
  
  const axis = make('line', {x1: 1745, x2: 1745, y1: 2788, y2: 3282, stroke: '#111', 'stroke-width': 3}, g);
  
  
  const catTick = make('line', {x1: 1735, x2: 1745, y1: 3035, y2: 3035, stroke: '#111', 'stroke-width': 3}, g);
  
  
  const bar = make('rect', {x: x(0), y: 2913, width: x(transferRate[0]) - x(0), height: 247, fill: '#009ab5', stroke: '#2a5560', 'stroke-width': 2.5}, g);
  
  
  const base = make('line', {x1: 1745, x2: 2368, y1: 3282, y2: 3282, stroke: '#111', 'stroke-width': 6}, g);
  
  
  transferTicks.forEach(function (v, i) {
    const tick = make('line', {x1: x(v), x2: x(v), y1: 3282, y2: 3296, stroke: '#111', 'stroke-width': 3}, g);
    
    
    const lx = x(v) + 10, ly = 3306;
    const lab = make('text', {x: lx, y: ly, 'font-size': 32, 'text-anchor': 'end', style: 'dominant-baseline:auto', transform: 'rotate(-60 ' + lx + ' ' + ly + ')'}, g);
    lab.textContent = transferTickLabels[i];
    
    
  });
})();
</script>
</body>
</html>
